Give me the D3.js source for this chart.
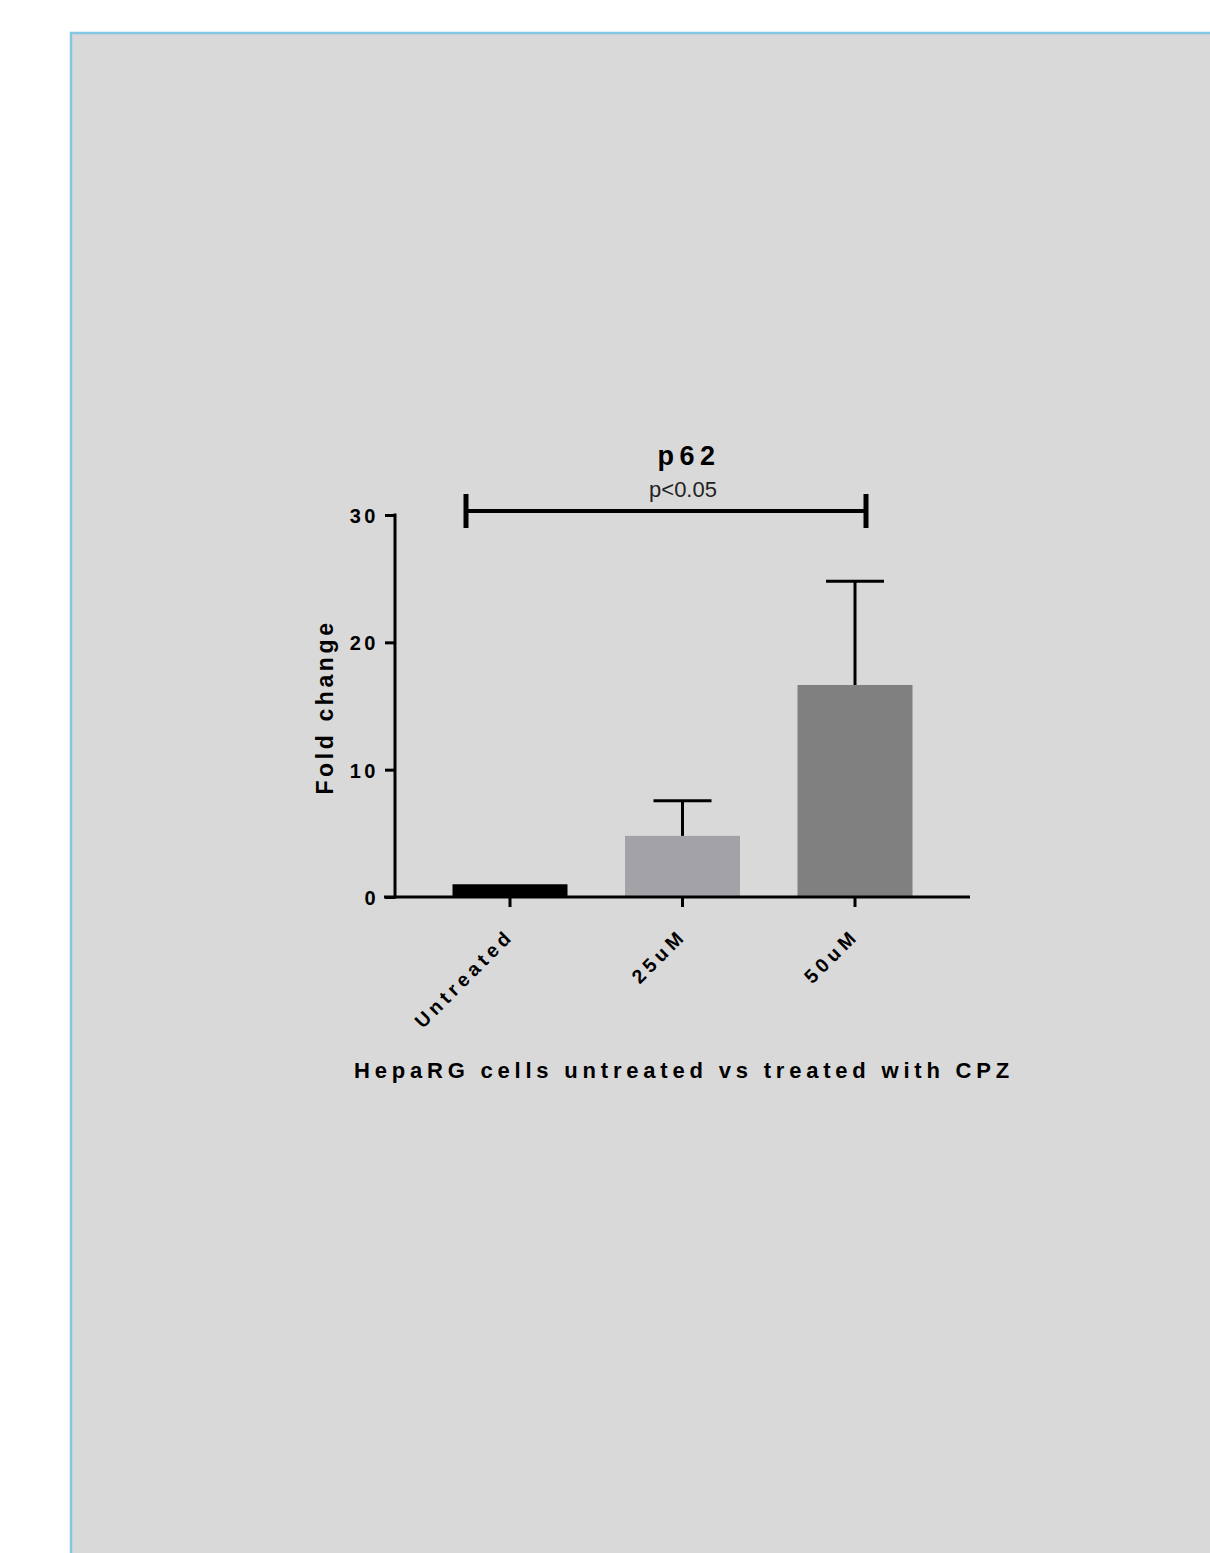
<!DOCTYPE html>
<html><head><meta charset="utf-8">
<script src="https://cdn.jsdelivr.net/npm/d3@7"></script>
<style>
html,body{margin:0;padding:0;background:#fff;}
svg text{font-family:"Liberation Sans",Arial,sans-serif;}
</style></head>
<body>
<script>
const categories = ["Untreated", "25uM", "50uM"];
const means = [1.0, 4.8, 16.65];
const errors = [0.0, 2.75, 8.15];
const barColors = ["#000000", "#a3a2a6", "#808080"];
const yTicks = [0, 10, 20, 30];
const title = "p62";
const sigLabel = "p<0.05";
const sigFrom = "Untreated", sigTo = "50uM", sigValue = 30;
const xTitle = "HepaRG cells untreated vs treated with CPZ";
const yTitle = "Fold change";

const W = 1210, H = 1553;
const svg = d3.select("body").append("svg").attr("width", W).attr("height", H);

svg.append("rect").attr("x", 71).attr("y", 33).attr("width", W - 71 + 2).attr("height", H - 33 + 2)
  .attr("fill", "#d9d9d9").attr("stroke", "#85c6e2").attr("stroke-width", 2.5);

const y = d3.scaleLinear().domain([0, 30]).range([897, 515]);
const x = d3.scaleBand().domain(categories).range([423.75, 941.25]).paddingInner(1/3).paddingOuter(1/6);

const g = svg.append("g");

// bars
g.selectAll("rect.bar").data(categories).join("rect")
  .attr("x", d => x(d)).attr("width", x.bandwidth())
  .attr("y", (d, i) => y(means[i])).attr("height", (d, i) => y(0) - y(means[i]))
  .attr("fill", (d, i) => barColors[i]);

// error bars
categories.forEach((c, i) => {
  if (errors[i] <= 0) return;
  const cx = x(c) + x.bandwidth() / 2;
  g.append("line").attr("x1", cx).attr("x2", cx).attr("y1", y(means[i])).attr("y2", y(means[i] + errors[i]))
    .attr("stroke", "#000").attr("stroke-width", 3);
  g.append("line").attr("x1", cx - 29).attr("x2", cx + 29).attr("y1", y(means[i] + errors[i])).attr("y2", y(means[i] + errors[i]))
    .attr("stroke", "#000").attr("stroke-width", 3);
});

// y axis
const yAxis = g.append("g").attr("transform", "translate(395,0)")
  .call(d3.axisLeft(y).tickValues(yTicks).tickSize(10).tickSizeOuter(0).tickPadding(6));
yAxis.select(".domain").attr("stroke-width", 3).attr("d", `M0,${y(30) - 1.5}V${y(0) + 1.5}`);
yAxis.selectAll(".tick line").attr("stroke-width", 3);
yAxis.selectAll(".tick text").attr("font-size", 20).attr("font-weight", "bold").attr("fill", "#000")
  .attr("letter-spacing", 3.5).attr("font-family", "Liberation Sans, Arial, sans-serif").attr("dy", "0.38em");

// x axis
const xAxis = g.append("g").attr("transform", `translate(0,${y(0)})`)
  .call(d3.axisBottom(x).tickSize(10).tickSizeOuter(0).tickFormat(""));
xAxis.select(".domain").attr("stroke-width", 3).attr("d", "M384,0H970");
xAxis.selectAll(".tick line").attr("stroke-width", 3);

// x labels rotated
categories.forEach(c => {
  const cx = x(c) + x.bandwidth() / 2;
  g.append("text").attr("transform", `translate(${cx + 5},${y(0) + 40}) rotate(-45)`)
    .attr("text-anchor", "end").attr("font-size", 19.5).attr("font-weight", "bold").attr("letter-spacing", 4.4)
    .attr("fill", "#000").text(c);
});

// y title
g.append("text").attr("transform", `translate(333,707) rotate(-90)`)
  .attr("text-anchor", "middle").attr("font-size", 23).attr("font-weight", "bold").attr("letter-spacing", 3.6)
  .attr("fill", "#000").text(yTitle);

// x title
g.append("text").attr("x", 684).attr("y", 1078).attr("text-anchor", "middle")
  .attr("font-size", 22).attr("font-weight", "bold").attr("letter-spacing", 4.8).attr("fill", "#000").text(xTitle);

// significance bracket
const sx1 = x(sigFrom) + x.bandwidth() / 2 - 44, sx2 = x(sigTo) + x.bandwidth() / 2 + 11;
const sy = y(sigValue) - 4;
g.append("line").attr("x1", sx1).attr("x2", sx2).attr("y1", sy).attr("y2", sy).attr("stroke", "#000").attr("stroke-width", 4);
[sx1, sx2].forEach(sx => g.append("line").attr("x1", sx).attr("x2", sx).attr("y1", sy - 17).attr("y2", sy + 17)
  .attr("stroke", "#000").attr("stroke-width", 5));

g.append("text").attr("x", 683).attr("y", 497).attr("text-anchor", "middle").attr("font-size", 22)
  .attr("font-family", "Open Sans, Liberation Sans, sans-serif").attr("fill", "#222").text(sigLabel);

// title
g.append("text").attr("x", 689).attr("y", 465).attr("text-anchor", "middle").attr("font-size", 27)
  .attr("font-weight", "bold").attr("letter-spacing", 5.5).attr("fill", "#000").text(title);
</script>
</body></html>
